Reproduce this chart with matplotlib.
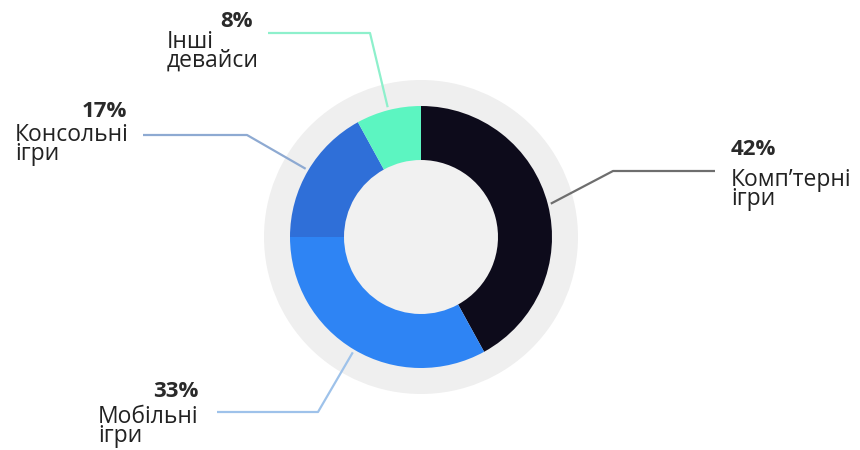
import numpy as np
import matplotlib
matplotlib.use("Agg")
import matplotlib.pyplot as plt
from matplotlib.patches import Circle

# ---- data ----
categories = ["Комп’терні\nігри", "Мобільні\nігри", "Консольні\nігри", "Інші\nдевайси"]
values = [42, 33, 17, 8]
pct_labels = ["42%", "33%", "17%", "8%"]
colors = ["#0d0b1b", "#2e84f4", "#2f6fd8", "#5cf5c1"]
line_colors = ["#6e6e6e", "#9ec2ea", "#8eaad2", "#8ef0cc"]

W, H = 860, 450
fig = plt.figure(figsize=(W / 100, H / 100), dpi=100)
ax = fig.add_axes([0, 0, 1, 1])

cx, cy = 421, H - 237
R_out, R_in, R_bg = 131, 77, 157

ax.add_patch(Circle((cx, cy), R_bg, color="#efefef", zorder=0, lw=0))
wedges, _ = ax.pie(values, colors=colors, startangle=90, counterclock=False,
                   radius=R_out, center=(cx, cy),
                   wedgeprops=dict(width=R_out - R_in, linewidth=0))
ax.add_patch(Circle((cx, cy), R_in, color="#f1f1f1", zorder=0.5, lw=0))

# layout of leader lines / labels (pixel coords, y measured from top)
# l2 = baseline of the last label line
layout = [
    dict(elbow=(613, 171), end=715, tx=731, pct_x=731, pct_ha="left", pct_y=155, l2=205),
    dict(elbow=(318, 412), end=217, tx=98, pct_x=199, pct_ha="right", pct_y=397, l2=442),
    dict(elbow=(247, 135), end=143, tx=15, pct_x=127, pct_ha="right", pct_y=117, l2=160),
    dict(elbow=(370, 33), end=268, tx=167, pct_x=253, pct_ha="right", pct_y=27, l2=67),
]

font = "Open Sans"
for w, cat, pct, lc, L in zip(wedges, categories, pct_labels, line_colors, layout):
    mid = np.deg2rad((w.theta1 + w.theta2) / 2)
    sx, sy = cx + 134 * np.cos(mid), cy + 134 * np.sin(mid)
    ex, ey = L["elbow"][0], H - L["elbow"][1]
    ax.plot([sx, ex, L["end"]], [sy, ey, ey], color=lc, lw=1.6,
            solid_capstyle="butt", zorder=3)
    ax.text(L["pct_x"], H - L["pct_y"], pct, ha=L["pct_ha"], va="baseline",
            fontsize=16, fontweight="bold", family=font, color="#2a2a2a")
    ax.text(L["tx"], H - L["l2"], cat, ha="left", va="baseline",
            fontsize=16.5, family=font, color="#222222", linespacing=0.70)

ax.set_xlim(0, W)
ax.set_ylim(0, H)
ax.set_aspect("equal")
ax.axis("off")
fig.savefig("out.png", dpi=100, facecolor="white")
